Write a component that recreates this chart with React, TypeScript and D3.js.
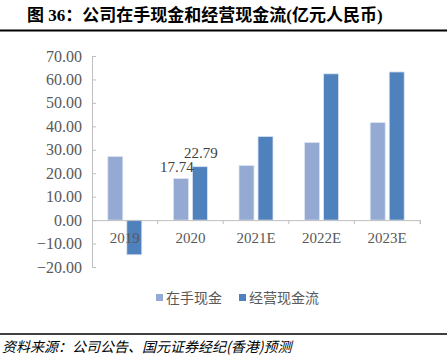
import * as React from "react";
import * as d3 from "d3";

const years = ["2019", "2020", "2021E", "2022E", "2023E"];
const cashOnHand = [27.1, 17.74, 23.3, 33.1, 41.6];
const operatingCF = [-14.8, 22.79, 35.7, 62.4, 63.2];
const yTicks = [70, 60, 50, 40, 30, 20, 10, 0, -10, -20];
const seriesNames = ["在手现金", "经营现金流"];
const labeled = [{ year: "2020", series: 0, value: 17.74 }, { year: "2020", series: 1, value: 22.79 }];

const W = 447;
const H = 359;
const lightBlue = "#94AAD3";
const darkBlue = "#4F81BD";
const serif = '"Liberation Serif", "Times New Roman", serif';
const cjk = '"Liberation Serif", "Noto Sans CJK SC", sans-serif';

export default function App() {
  const ref = React.useRef<SVGSVGElement>(null);

  React.useEffect(() => {
    const svg = d3.select(ref.current);
    svg.selectAll("*").remove();

    const x = d3.scaleBand().domain(years).range([92, 420]);
    const y = d3.scaleLinear().domain([-20, 70]).range([267, 56]);
    const barW = 15;
    const gap = 4;

    // title + rules
    svg.append("text")
      .attr("x", 27).attr("y", 21)
      .attr("font-family", cjk).attr("font-weight", "bold").attr("font-size", 17)
      .attr("fill", "#000")
      .text("图 36：公司在手现金和经营现金流(亿元人民币)");
    svg.append("line").attr("x1", 0).attr("x2", W).attr("y1", 30.5).attr("y2", 30.5)
      .attr("stroke", "#000").attr("stroke-width", 2);
    svg.append("line").attr("x1", 0).attr("x2", W).attr("y1", 334).attr("y2", 334)
      .attr("stroke", "#000").attr("stroke-width", 1.5);
    svg.append("text")
      .attr("x", 2).attr("y", 352)
      .attr("font-family", '"Noto Sans CJK SC", sans-serif').attr("font-style", "italic")
      .attr("font-size", 14).attr("fill", "#000")
      .text("资料来源：公司公告、国元证券经纪(香港)预测");

    // y axis
    const yAxis = d3.axisRight(y).tickValues(yTicks).tickSize(4).tickFormat(() => "");
    const ya = svg.append("g").attr("transform", "translate(92,0)").call(yAxis);
    ya.selectAll("path,line").attr("stroke", "#BFBFBF");
    svg.append("g").selectAll("text").data(yTicks).join("text")
      .attr("x", 82).attr("y", (d) => y(d)).attr("dy", "0.35em")
      .attr("text-anchor", "end")
      .attr("font-family", serif).attr("font-size", 16).attr("fill", "#595959")
      .text((d) => d3.format(".2f")(d));

    // bars
    const series = [cashOnHand, operatingCF];
    series.forEach((vals, si) => {
      svg.append("g").selectAll("rect").data(vals).join("rect")
        .attr("x", (_d, i) => {
          const c = x(years[i])! + x.bandwidth() / 2;
          return si === 0 ? c - gap / 2 - barW : c + gap / 2;
        })
        .attr("y", (d) => y(Math.max(0, d)))
        .attr("width", barW)
        .attr("height", (d) => Math.abs(y(d) - y(0)))
        .attr("fill", si === 0 ? lightBlue : darkBlue)
        .attr("stroke", "#DCE4F0").attr("stroke-width", 0.8);
    });

    // x axis at zero
    const xAxis = d3.axisBottom(x).tickSize(4).tickSizeOuter(4).tickFormat(() => "");
    const xa = svg.append("g").attr("transform", `translate(0,${y(0)})`).call(xAxis);
    xa.selectAll("path,line").attr("stroke", "#BFBFBF");
    xa.selectAll(".tick line").attr("transform", `translate(${x.bandwidth() / 2},0)`);
    svg.append("g").selectAll("text").data(years).join("text")
      .attr("x", (d) => x(d)! + x.bandwidth() / 2)
      .attr("y", y(0) + 23)
      .attr("text-anchor", "middle")
      .attr("font-family", serif).attr("font-size", 15).attr("fill", "#595959")
      .text((d) => d);

    // value labels
    svg.append("g").selectAll("text").data(labeled).join("text")
      .attr("x", (d) => {
        const c = x(d.year)! + x.bandwidth() / 2;
        return d.series === 0 ? c - gap / 2 - barW / 2 - 4 : c + gap / 2 + barW / 2 + 1;
      })
      .attr("y", (d) => y(d.value) - (d.series === 0 ? 7 : 9))
      .attr("text-anchor", "middle")
      .attr("font-family", serif).attr("font-size", 15).attr("fill", "#404040")
      .text((d) => d.value.toFixed(2));

    // legend
    const legendX = [156, 239];
    const lg = svg.append("g").selectAll("g").data(seriesNames).join("g")
      .attr("transform", (_d, i) => `translate(${legendX[i]},298)`);
    lg.append("rect").attr("x", 0).attr("y", -4).attr("width", 7).attr("height", 7)
      .attr("fill", (_d, i) => (i === 0 ? lightBlue : darkBlue));
    lg.append("text").attr("x", 10).attr("dy", "0.35em")
      .attr("font-family", '"Noto Sans CJK SC", sans-serif').attr("font-size", 14)
      .attr("fill", "#595959")
      .text((d) => d);
  }, []);

  return (
    <svg
      ref={ref}
      width={W}
      height={H}
      style={{ position: "absolute", left: 0, top: 0, background: "#fff" }}
    />
  );
}
